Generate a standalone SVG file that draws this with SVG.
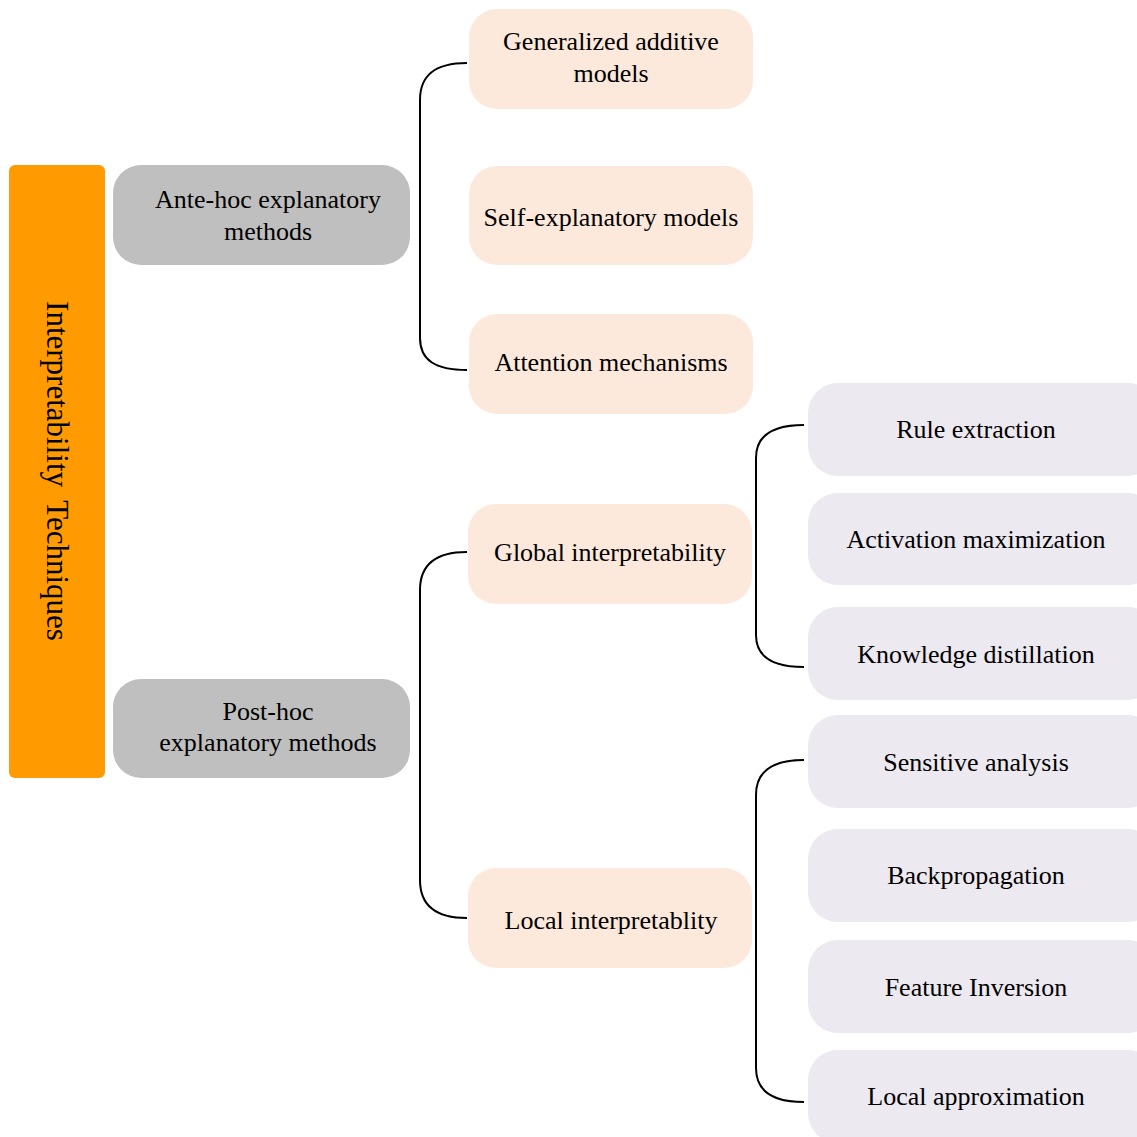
<svg xmlns="http://www.w3.org/2000/svg" width="1137" height="1137" viewBox="0 0 1137 1137">
<style>
text{font-family:"Liberation Serif","Times New Roman",serif;font-size:26px;fill:#000;text-anchor:middle;dominant-baseline:central}
.root{fill:#FF9A00}
.l1{fill:#BFBFBF}
.l2{fill:#FCE9DC}
.l3{fill:#ECE9F0}
.c{fill:none;stroke:#000;stroke-width:2}
</style>
<rect width="1137" height="1137" fill="#fff"/>
<g id="connectors">
<path class="c" d="M467,63 C435,63 420,75 420,100 L420,338 C420,360 435,370 467,370"/>
<path class="c" d="M467,552 C435,552 420,565 420,590 L420,880 C420,905 435,918 467,918"/>
<path class="c" d="M804,425 C772,425 756,436 756,458 L756,635 C756,656 772,667 804,667"/>
<path class="c" d="M804,760 C772,760 756,772 756,795 L756,1068 C756,1090 772,1102 804,1102"/>
</g>
<g id="root">
<rect class="root" x="9" y="165" width="96" height="613" rx="6"/>
<text transform="translate(57,471) rotate(90)" style="font-size:31px;word-spacing:6px">Interpretability Techniques</text>
</g>
<g id="ante-hoc">
<rect class="l1" x="113" y="165" width="297" height="100" rx="28"/>
<text x="268" y="199">Ante-hoc explanatory</text>
<text x="268" y="231">methods</text>
</g>
<g id="post-hoc">
<rect class="l1" x="113" y="679" width="297" height="99" rx="28"/>
<text x="268" y="711">Post-hoc</text>
<text x="268" y="742">explanatory methods</text>
</g>
<g id="gam">
<rect class="l2" x="469" y="9" width="284" height="100" rx="28"/>
<text x="611" y="41">Generalized additive</text>
<text x="611" y="73">models</text>
</g>
<g id="self-explanatory">
<rect class="l2" x="469" y="166" width="284" height="99" rx="28"/>
<text x="611" y="217">Self-explanatory models</text>
</g>
<g id="attention">
<rect class="l2" x="469" y="314" width="284" height="100" rx="28"/>
<text x="611" y="362">Attention mechanisms</text>
</g>
<g id="global">
<rect class="l2" x="468" y="504" width="284" height="100" rx="28"/>
<text x="610" y="552">Global interpretability</text>
</g>
<g id="local">
<rect class="l2" x="468" y="868" width="284" height="100" rx="28"/>
<text x="611" y="920">Local interpretablity</text>
</g>
<g id="rule-extraction">
<rect class="l3" x="808" y="383" width="350" height="93" rx="30"/>
<text x="976" y="429">Rule extraction</text>
</g>
<g id="activation-maximization">
<rect class="l3" x="808" y="493" width="350" height="92" rx="30"/>
<text x="976" y="539">Activation maximization</text>
</g>
<g id="knowledge-distillation">
<rect class="l3" x="808" y="607" width="350" height="93" rx="30"/>
<text x="976" y="654">Knowledge distillation</text>
</g>
<g id="sensitive-analysis">
<rect class="l3" x="808" y="715" width="350" height="93" rx="30"/>
<text x="976" y="762">Sensitive analysis</text>
</g>
<g id="backpropagation">
<rect class="l3" x="808" y="829" width="350" height="93" rx="30"/>
<text x="976" y="875">Backpropagation</text>
</g>
<g id="feature-inversion">
<rect class="l3" x="808" y="940" width="350" height="93" rx="30"/>
<text x="976" y="987">Feature Inversion</text>
</g>
<g id="local-approximation">
<rect class="l3" x="808" y="1050" width="350" height="93" rx="30"/>
<text x="976" y="1096">Local approximation</text>
</g>
</svg>
